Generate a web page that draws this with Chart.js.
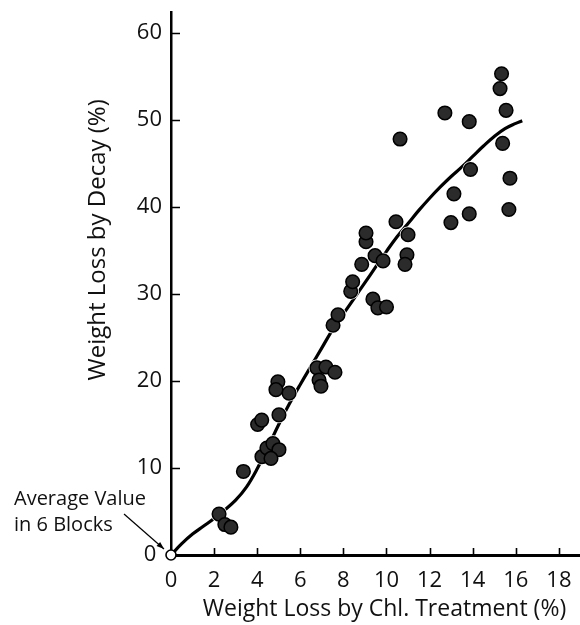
<!DOCTYPE html>
<html><head><meta charset="utf-8">
<script src="https://cdn.jsdelivr.net/npm/chart.js@4.4.1/dist/chart.umd.min.js"></script>
<style>html,body{margin:0;padding:0;background:#fff;}#wrap{width:580px;height:625px;}</style>
</head><body><div id="wrap"><canvas id="c" width="580" height="625"></canvas></div>
<script>
// ---- data ----
const xTicks = [0, 2, 4, 6, 8, 10, 12, 14, 16, 18];
const yTicks = [0, 10, 20, 30, 40, 50, 60];
const chlLoss = [2.23, 2.5, 2.78, 3.36, 4.22, 4.45, 4.73, 5.01, 4.64, 4.02, 4.21, 5.01, 4.96, 4.87, 5.48,
  6.77, 7.19, 7.61, 6.87, 6.96, 7.52, 7.75, 8.34, 8.43, 8.85, 9.05, 9.05, 9.47, 9.84, 9.37, 9.6, 10.0,
  10.44, 10.95, 10.86, 11.0, 10.63, 12.71, 12.99, 13.13, 13.84, 13.84, 13.9, 15.34, 15.27, 15.55, 15.39, 15.73, 15.68];
const decayLoss = [4.7, 3.5, 3.2, 9.6, 11.3, 12.3, 12.8, 12.1, 11.1, 15.0, 15.5, 16.1, 19.9, 19.0, 18.6,
  21.5, 21.6, 21.0, 20.1, 19.4, 26.4, 27.6, 30.3, 31.4, 33.4, 36.0, 37.0, 34.4, 33.8, 29.4, 28.4, 28.5,
  38.3, 34.5, 33.4, 36.8, 47.8, 50.8, 38.2, 41.5, 49.8, 39.2, 44.3, 55.3, 53.6, 51.1, 47.3, 43.3, 39.7];
const curveX = [0, 0.5, 1, 1.5, 2, 2.5, 3, 3.5, 4, 4.5, 5, 5.5, 6, 6.5, 7, 7.5, 8, 8.5, 9, 9.5, 10, 10.5, 11, 11.5, 12, 12.5, 13, 13.5, 14, 14.5, 15, 15.5, 16, 16.3];
const curveY = [0, 1.3, 2.4, 3.3, 4.2, 5.2, 6.3, 7.8, 9.9, 12.4, 15.0, 17.4, 19.6, 21.7, 23.8, 25.9, 27.7, 29.5, 31.3, 33.1, 34.9, 36.6, 38.1, 39.6, 41.0, 42.3, 43.5, 44.6, 45.8, 47.0, 48.1, 49.0, 49.6, 49.9];
const originX = [0];
const originY = [0];
const xTitle = 'Weight Loss by Chl. Treatment (%)';
const yTitle = 'Weight Loss by Decay (%)';
const noteLines = ['Average Value', 'in 6 Blocks'];

// ---- build ----
const FONT = "'Open Sans', 'DejaVu Sans', sans-serif";
const toPts = (xs, ys) => xs.map((x, i) => ({x: x, y: ys[i]}));
const samples = toPts(chlLoss, decayLoss);

const inwardTicks = {
  id: 'inwardTicks',
  afterDraw(chart) {
    const ctx = chart.ctx, xs = chart.scales.x, ys = chart.scales.y;
    const area = chart.chartArea;
    ctx.save();
    ctx.strokeStyle = '#000';
    ctx.lineWidth = 1.6;
    ctx.beginPath();
    yTicks.forEach(v => { if (v > 0) { const p = Math.round(ys.getPixelForValue(v)) + 0.5; ctx.moveTo(area.left, p); ctx.lineTo(area.left + 9, p); } });
    xTicks.forEach(v => { if (v > 0) { const p = Math.round(xs.getPixelForValue(v)) + 0.5; ctx.moveTo(p, area.bottom); ctx.lineTo(p, area.bottom - 7); } });
    ctx.stroke();
    ctx.restore();
  }
};

const note = {
  id: 'note',
  afterDraw(chart) {
    const ctx = chart.ctx;
    const px = chart.scales.x.getPixelForValue(originX[0]);
    const py = chart.scales.y.getPixelForValue(originY[0]);
    ctx.save();
    ctx.fillStyle = '#111';
    ctx.font = "20px " + FONT;
    ctx.textAlign = 'left';
    ctx.textBaseline = 'middle';
    ctx.fillText(noteLines[0], 14, py - 56);
    ctx.fillText(noteLines[1], 14, py - 30);
    const x0 = px - 47, y0 = py - 41, x1 = px - 7, y1 = py - 6;
    ctx.strokeStyle = '#000';
    ctx.lineWidth = 1.2;
    ctx.beginPath(); ctx.moveTo(x0, y0); ctx.lineTo(x1, y1); ctx.stroke();
    const ang = Math.atan2(y1 - y0, x1 - x0);
    ctx.beginPath();
    ctx.moveTo(x1, y1);
    ctx.lineTo(x1 - 8 * Math.cos(ang - 0.35), y1 - 8 * Math.sin(ang - 0.35));
    ctx.lineTo(x1 - 8 * Math.cos(ang + 0.35), y1 - 8 * Math.sin(ang + 0.35));
    ctx.closePath(); ctx.fillStyle = '#000'; ctx.fill();
    ctx.restore();
  }
};

new Chart(document.getElementById('c'), {
  type: 'scatter',
  data: {
    datasets: [
      { label: 'origin', data: toPts(originX, originY), pointRadius: 5, pointBackgroundColor: '#fff', pointBorderColor: '#000', pointBorderWidth: 1.6, clip: false },
      { label: 'samples', data: samples, pointRadius: 6.8, pointBackgroundColor: '#2b2b2b', pointBorderColor: '#000', pointBorderWidth: 1.5 },
      { label: 'halo', data: samples, pointRadius: 8.3, pointBackgroundColor: '#fff', pointBorderWidth: 0 },
      { label: 'fit', type: 'line', data: toPts(curveX, curveY), borderColor: '#000', borderWidth: 3.2, pointRadius: 0, fill: false, tension: 0.4 }
    ]
  },
  options: {
    responsive: false,
    animation: false,
    devicePixelRatio: 1,
    layout: { autoPadding: false, padding: { top: 12, right: 0, left: 0, bottom: 0 } },
    plugins: { legend: { display: false }, tooltip: { enabled: false } },
    scales: {
      x: {
        type: 'linear', position: 'bottom', min: 0, max: 18.98,
        afterBuildTicks: s => { s.ticks = xTicks.map(v => ({value: v})); },
        afterFit: s => { s.height = 70; s.paddingLeft = 0; s.paddingRight = 0; },
        grid: { display: false, drawTicks: false },
        border: { display: true, color: '#000', width: 3 },
        ticks: { color: '#111', font: { family: FONT, size: 22 }, padding: 13, maxRotation: 0, autoSkip: false },
        title: { display: true, text: '   ' + xTitle, color: '#111', font: { family: FONT, size: 23 }, padding: { top: 0, bottom: 2 } }
      },
      y: {
        type: 'linear', position: 'left', min: 0, max: 62.4,
        afterBuildTicks: s => { s.ticks = yTicks.map(v => ({value: v})); },
        afterFit: s => { s.width = 171; s.paddingTop = 0; s.paddingBottom = 0; },
        grid: { display: false, drawTicks: false },
        border: { display: true, color: '#000', width: 2.5 },
        ticks: { color: '#111', font: { family: FONT, size: 22 }, padding: 9, autoSkip: false, callback: v => (v === 0 ? '0 ' : String(v)) },
        title: { display: true, text: '              ' + yTitle, color: '#111', font: { family: FONT, size: 24 }, padding: { top: 84, bottom: 0 } }
      }
    }
  },
  plugins: [inwardTicks, note]
});
</script>
</body></html>
